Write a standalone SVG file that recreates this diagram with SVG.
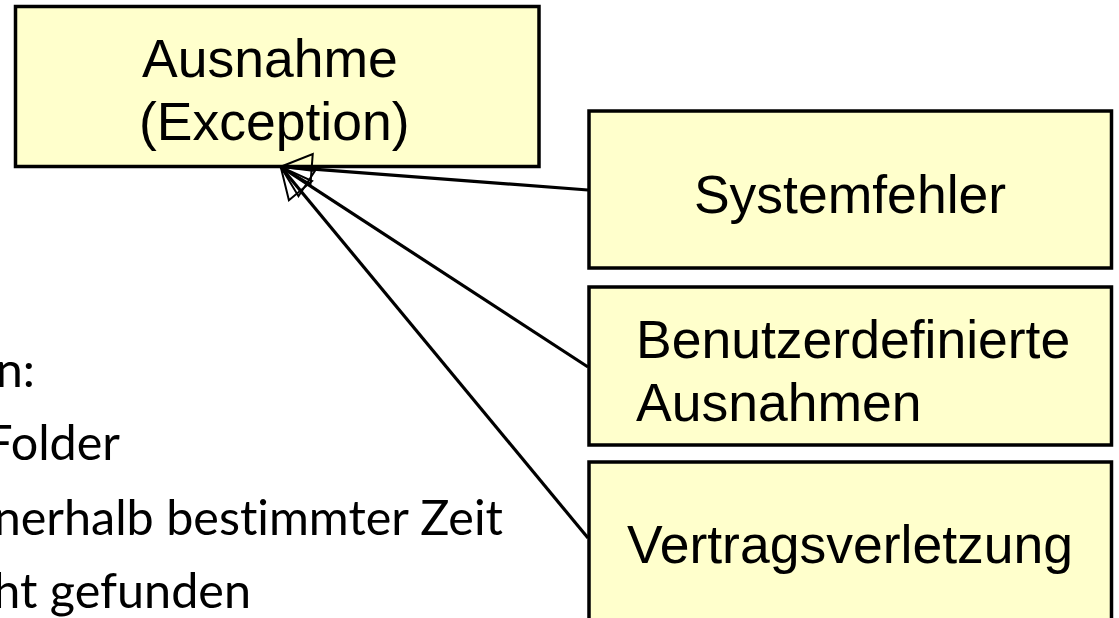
<svg xmlns="http://www.w3.org/2000/svg" width="1119" height="618" viewBox="0 0 1119 618">
<style>
.box{fill:#FFFFCC;stroke:#000;stroke-width:3.5}
.lbl{font-family:"Liberation Sans",Arial,sans-serif;font-size:53.5px;fill:#000}
.side{font-family:Lato,"Noto Sans",sans-serif;font-size:48.5px;fill:#000;text-anchor:end;font-variant-ligatures:none;font-feature-settings:"liga" 0}
.conn{stroke:#000;stroke-width:3.2;fill:none}
</style>
<defs>
<marker id="tri" markerUnits="userSpaceOnUse" viewBox="-34 -18 36 36" refX="0" refY="0" markerWidth="36" markerHeight="36" orient="auto">
<path d="M0,0 L-31,-15 L-31,15 Z" fill="none" stroke="#000" stroke-width="2"/>
</marker>
</defs>
<rect width="1119" height="618" fill="#fff"/>
<g id="side-text">
<text class="side" x="35" y="387">n:</text>
<text class="side" x="120" y="460">Folder</text>
<text class="side" x="503" y="535">nerhalb bestimmter Zeit</text>
<text class="side" x="251" y="608">ht gefunden</text>
</g>
<g id="ausnahme">
<rect class="box" x="15.5" y="6.5" width="523.5" height="160"/>
<text class="lbl" x="142" y="77">Ausnahme</text>
<text class="lbl" x="139" y="140">(Exception)</text>
</g>
<g id="systemfehler">
<rect class="box" x="589" y="111" width="522.5" height="157"/>
<text class="lbl" x="850" y="213" text-anchor="middle">Systemfehler</text>
</g>
<g id="benutzerdefiniert">
<rect class="box" x="589" y="287" width="522.5" height="158"/>
<text class="lbl" x="636" y="358">Benutzerdefinierte</text>
<text class="lbl" x="636" y="421">Ausnahmen</text>
</g>
<g id="vertragsverletzung">
<rect class="box" x="589" y="462" width="522.5" height="200"/>
<text class="lbl" x="850" y="563" text-anchor="middle">Vertragsverletzung</text>
</g>
<g id="connectors">
<line class="conn" x1="588" y1="190" x2="280.7" y2="166.7" marker-end="url(#tri)"/>
<line class="conn" x1="588" y1="367" x2="280.7" y2="166.7" marker-end="url(#tri)"/>
<line class="conn" x1="588" y1="538" x2="280.7" y2="166.7" marker-end="url(#tri)"/>
</g>
</svg>
